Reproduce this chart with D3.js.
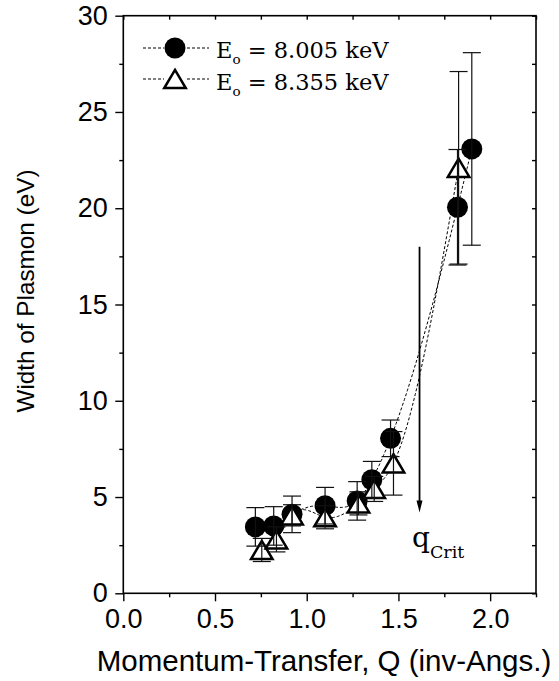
<!DOCTYPE html>
<html>
<head>
<meta charset="utf-8">
<script src="https://cdn.jsdelivr.net/npm/d3@7"></script>
<style>
  body { margin: 0; background: #fff; }
  svg { display: block; }
</style>
</head>
<body>
<svg id="chart" width="559" height="681"></svg>
<script>
// Plasmon width vs momentum transfer for two incident energies
const qLow      = [0.72, 0.82, 0.92, 1.10, 1.275, 1.355, 1.457, 1.822, 1.90];
const widthLow  = [3.45, 3.5, 4.1, 4.55, 4.8, 5.9, 8.05, 20.05, 23.08];
const errLow    = [1.0, 1.0, 0.95, 0.95, 1.0, 0.95, 0.95, 3.0, 5.0];

const qHigh     = [0.755, 0.835, 0.92, 1.10, 1.282, 1.368, 1.473, 1.828];
const widthHigh = [2.25, 2.8, 4.05, 3.95, 4.67, 5.42, 6.75, 22.1];
const errHigh   = [0.6, 0.65, 0.55, 0.6, 0.6, 0.65, 1.65, 5.0];

const seriesEnergy = ["8.005 keV", "8.355 keV"];

const xMajorTicks = [0, 0.5, 1.0, 1.5, 2.0];
const xMinorTicks = [0.25, 0.75, 1.25, 1.75, 2.25];
const yMajorTicks = [0, 5, 10, 15, 20, 25, 30];
const yMinorTicks = [2.5, 7.5, 12.5, 17.5, 22.5, 27.5];

const qCrit = 1.615;          // critical momentum transfer marker
const qCritSpan = [18.0, 4.2]; // arrow from / to (eV)

const svg = d3.select("#chart");
const L = 123.3, R = 536, T = 15.7, B = 593.3;

const x = d3.scaleLinear().domain([0, 2.25]).range([L, R]);
const y = d3.scaleLinear().domain([0, 30]).range([B, T]);

const sans = "'Liberation Sans', Arial, sans-serif";
const serif = "'DejaVu Serif', serif";

// natural cubic spline y(x) through the points, sampled for drawing
function splinePath(xs, ys, steps) {
  const n = xs.length;
  const h = d3.range(n - 1).map(i => xs[i + 1] - xs[i]);
  const a = new Array(n).fill(0), b = new Array(n).fill(1), c = new Array(n).fill(0), d = new Array(n).fill(0);
  for (let i = 1; i < n - 1; i++) {
    a[i] = h[i - 1];
    b[i] = 2 * (h[i - 1] + h[i]);
    c[i] = h[i];
    d[i] = 6 * ((ys[i + 1] - ys[i]) / h[i] - (ys[i] - ys[i - 1]) / h[i - 1]);
  }
  // Thomas algorithm
  const cp = new Array(n).fill(0), dp = new Array(n).fill(0);
  cp[0] = c[0] / b[0]; dp[0] = d[0] / b[0];
  for (let i = 1; i < n; i++) {
    const m = b[i] - a[i] * cp[i - 1];
    cp[i] = c[i] / m;
    dp[i] = (d[i] - a[i] * dp[i - 1]) / m;
  }
  const M = new Array(n).fill(0);
  M[n - 1] = dp[n - 1];
  for (let i = n - 2; i >= 0; i--) M[i] = dp[i] - cp[i] * M[i + 1];
  const pts = [];
  for (let i = 0; i < n - 1; i++) {
    for (let k = 0; k < steps; k++) {
      const t = xs[i] + h[i] * k / steps;
      const A = (xs[i + 1] - t) / h[i], Bc = (t - xs[i]) / h[i];
      const v = A * ys[i] + Bc * ys[i + 1] +
        ((A * A * A - A) * M[i] + (Bc * Bc * Bc - Bc) * M[i + 1]) * h[i] * h[i] / 6;
      pts.push([t, v]);
    }
  }
  pts.push([xs[n - 1], ys[n - 1]]);
  return pts;
}

const line = d3.line().x(d => x(d[0])).y(d => y(d[1]));

// axes: major ticks with labels (outward)
const gx = svg.append("g").attr("transform", `translate(0,${B})`)
  .call(d3.axisBottom(x).tickValues(xMajorTicks).tickSize(8).tickSizeOuter(0)
    .tickPadding(7.5).tickFormat(d3.format(".1f")));
gx.select(".domain").remove();
gx.selectAll("text").attr("font-family", sans).attr("font-size", 27).attr("fill", "#000");

const gxm = svg.append("g").attr("transform", `translate(0,${B})`)
  .call(d3.axisBottom(x).tickValues(xMinorTicks).tickSize(4).tickSizeOuter(0).tickFormat(""));
gxm.select(".domain").remove();

const gy = svg.append("g").attr("transform", `translate(${L},0)`)
  .call(d3.axisLeft(y).tickValues(yMajorTicks).tickSize(8).tickSizeOuter(0)
    .tickPadding(7.5).tickFormat(d3.format("d")));
gy.select(".domain").remove();
gy.selectAll("text").attr("font-family", sans).attr("font-size", 27).attr("fill", "#000");

const gym = svg.append("g").attr("transform", `translate(${L},0)`)
  .call(d3.axisLeft(y).tickValues(yMinorTicks).tickSize(4).tickSizeOuter(0).tickFormat(""));
gym.select(".domain").remove();

// mirrored inward ticks on top and right
const gt = svg.append("g").attr("transform", `translate(0,${T})`)
  .call(d3.axisBottom(x).tickValues(xMajorTicks.concat(xMinorTicks)).tickSize(4).tickSizeOuter(0).tickFormat(""));
gt.select(".domain").remove();
const gr = svg.append("g").attr("transform", `translate(${R},0)`)
  .call(d3.axisLeft(y).tickValues(yMajorTicks.concat(yMinorTicks)).tickSize(4).tickSizeOuter(0).tickFormat(""));
gr.select(".domain").remove();

svg.selectAll(".tick line").attr("stroke", "#000").attr("stroke-width", 1.4);

// frame
svg.append("rect").attr("x", L).attr("y", T).attr("width", R - L).attr("height", B - T)
  .attr("fill", "none").attr("stroke", "#000").attr("stroke-width", 1.6);

// axis titles
svg.append("text").attr("x", 324).attr("y", 671)
  .attr("text-anchor", "middle").attr("font-family", sans).attr("font-size", 29.5)
  .text("Momentum-Transfer, Q (inv-Angs.)");
svg.append("text").attr("transform", "translate(34,291) rotate(-90)")
  .attr("text-anchor", "middle").attr("font-family", sans).attr("font-size", 24.3)
  .text("Width of Plasmon (eV)");

const plot = svg.append("g");

// dashed spline connections
const dash = "3,2";
plot.append("path").attr("d", line(splinePath(qLow, widthLow, 24)))
  .attr("fill", "none").attr("stroke", "#000").attr("stroke-width", 1).attr("stroke-dasharray", dash);
plot.append("path").attr("d", line(splinePath(qHigh, widthHigh, 24)))
  .attr("fill", "none").attr("stroke", "#000").attr("stroke-width", 1).attr("stroke-dasharray", dash);

// markers
const triPath = (cx, cy) => {
  const s = 21.5, h = 18.2;
  return `M${cx},${cy - h / 2}L${cx + s / 2},${cy + h / 2}L${cx - s / 2},${cy + h / 2}Z`;
};
const lowPts = qLow.map((q, i) => ({ q, w: widthLow[i], e: errLow[i] }));
const highPts = qHigh.map((q, i) => ({ q, w: widthHigh[i], e: errHigh[i] }));

plot.selectAll("circle.low").data(lowPts).join("circle").attr("class", "low")
  .attr("cx", d => x(d.q)).attr("cy", d => y(d.w)).attr("r", 10.5).attr("fill", "#000");
plot.selectAll("path.high").data(highPts).join("path").attr("class", "high")
  .attr("d", d => triPath(x(d.q), y(d.w)))
  .attr("fill", "#fff").attr("stroke", "#000").attr("stroke-width", 2.5).attr("stroke-linejoin", "miter");

// error bars
function errorBars(pts) {
  const g = plot.append("g").attr("stroke", "#111").attr("stroke-width", 1.2);
  pts.forEach(d => {
    const cx = x(d.q);
    g.append("line").attr("x1", cx).attr("x2", cx).attr("y1", y(d.w - d.e)).attr("y2", y(d.w + d.e));
    [d.w - d.e, d.w + d.e].forEach(v => {
      g.append("line").attr("x1", cx - 9).attr("x2", cx + 9).attr("y1", y(v)).attr("y2", y(v));
    });
  });
}
errorBars(lowPts);
errorBars(highPts);

// q_crit arrow
const ax = x(qCrit), ayTip = y(qCritSpan[1]);
svg.append("line").attr("x1", ax).attr("x2", ax)
  .attr("y1", y(qCritSpan[0])).attr("y2", ayTip - 11)
  .attr("stroke", "#000").attr("stroke-width", 1.8);
svg.append("path")
  .attr("d", `M${ax - 3},${ayTip - 12}L${ax + 3},${ayTip - 12}L${ax},${ayTip}Z`)
  .attr("fill", "#000");

const qt = svg.append("text").attr("x", 412).attr("y", 546.7).attr("font-family", serif).attr("font-size", 28);
qt.append("tspan").text("q");
qt.append("tspan").attr("font-size", 17.5).attr("dy", 11.6).text("Crit");

// legend
const legend = svg.append("g");
const rows = [48, 79];
const textBase = [58, 90];
rows.forEach((ry, i) => {
  legend.append("line").attr("x1", 143).attr("x2", 164).attr("y1", ry).attr("y2", ry)
    .attr("stroke", "#000").attr("stroke-width", 1).attr("stroke-dasharray", dash);
  legend.append("line").attr("x1", 187).attr("x2", 209).attr("y1", ry).attr("y2", ry)
    .attr("stroke", "#000").attr("stroke-width", 1).attr("stroke-dasharray", dash);
  if (i === 0) {
    legend.append("circle").attr("cx", 175).attr("cy", ry).attr("r", 10.5).attr("fill", "#000");
  } else {
    legend.append("path").attr("d", triPath(175, ry)).attr("fill", "#fff")
      .attr("stroke", "#000").attr("stroke-width", 2.5);
  }
  const t = legend.append("text").attr("x", 216).attr("y", textBase[i])
    .attr("font-family", serif).attr("font-size", 22.5);
  t.append("tspan").text("E");
  t.append("tspan").attr("font-size", 13.5).attr("dy", 6).text("o");
  t.append("tspan").attr("dy", -6).text(" = " + seriesEnergy[i]);
});
</script>
</body>
</html>
